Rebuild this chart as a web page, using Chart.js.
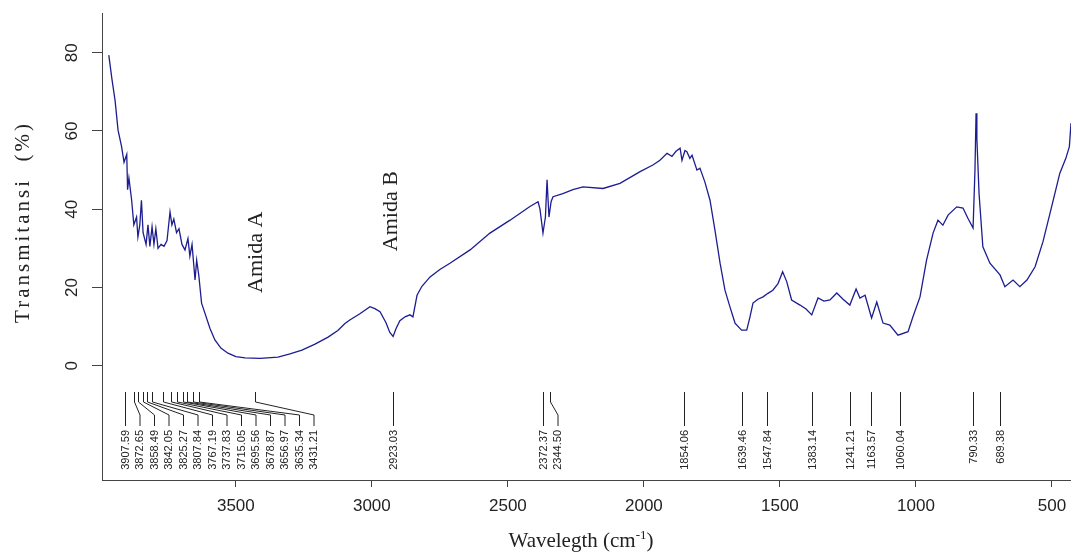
<!DOCTYPE html>
<html>
<head>
<meta charset="utf-8">
<title>FTIR Transmitansi</title>
<script src="https://cdn.jsdelivr.net/npm/chart.js@4.4.0/dist/chart.umd.min.js"></script>
<style>
  html, body { margin: 0; padding: 0; background: #fff; overflow: hidden; }
  #wrap { width: 1071px; height: 556px; }
</style>
</head>
<body>
<div id="wrap"><canvas id="ftirChart" width="1071" height="556"></canvas></div>
<script>
// spectrum (cm-1 / %T)
const wavenumber = [
  3967, 3956, 3944, 3933, 3920, 3911, 3901, 3898, 3893, 3883,
  3875, 3865, 3860, 3853, 3847, 3841, 3830, 3823, 3816, 3808,
  3801, 3794, 3786, 3775, 3764, 3753, 3742, 3735, 3728, 3718,
  3709, 3698, 3687, 3676, 3669, 3661, 3650, 3644, 3636, 3626,
  3614, 3595, 3577, 3555, 3529, 3500, 3466, 3411, 3345, 3301,
  3257, 3209, 3161, 3125, 3099, 3081, 3044, 3007, 2989, 2970,
  2948, 2934, 2922, 2911, 2897, 2878, 2860, 2849, 2834, 2816,
  2786, 2750, 2713, 2639, 2566, 2492, 2419, 2389, 2382, 2371,
  2362, 2356, 2349, 2341, 2334, 2298, 2261, 2224, 2150, 2088,
  2014, 1967, 1941, 1915, 1897, 1882, 1867, 1860, 1849, 1842,
  1831, 1823, 1805, 1794, 1776, 1757, 1739, 1720, 1702, 1684,
  1665, 1641, 1622, 1610, 1599, 1581, 1562, 1544, 1526, 1507,
  1490, 1475, 1457, 1426, 1404, 1383, 1360, 1338, 1316, 1291,
  1268, 1243, 1220, 1206, 1187, 1163, 1144, 1121, 1096, 1066,
  1029, 1011, 985, 961, 937, 919, 901, 882, 850, 827,
  809, 790, 783, 779, 776, 768, 754, 728, 691, 673,
  643, 618, 592, 562, 533, 507, 471, 449, 436, 430
];
const transmittance = [
  79.4, 73.5, 67.8, 60.2, 56, 52, 54, 45, 48, 42.3,
  36, 38, 32.9, 36, 42.3, 34, 31, 36, 30.5, 35.5,
  31, 35, 30, 31, 30.5, 32, 39.3, 36, 37.5, 34,
  35, 31, 29.6, 32.5, 28, 31, 21.9, 27, 23, 16,
  13.5, 9.5, 6.6, 4.5, 3.2, 2.3, 2, 1.9, 2.2, 3,
  4, 5.5, 7.3, 9, 10.8, 11.7, 13.3, 15.1, 14.6, 13.8,
  11, 8.5, 7.5, 9.5, 11.5, 12.5, 13, 12.5, 18, 20.3,
  22.7, 24.6, 26.2, 29.6, 33.9, 37.2, 40.7, 41.9, 40, 33.9,
  38, 47.5, 38, 42, 43.2, 44, 45, 45.7, 45.3, 46.6,
  49.6, 51.3, 52.5, 54.3, 53.5, 54.8, 55.6, 52.5, 55, 54.7,
  53, 53.8, 50, 50.5, 47, 42.3, 34.7, 26.2, 19.3, 15.1,
  10.9, 9.1, 9.1, 12.5, 16, 17, 17.6, 18.5, 19.3, 21,
  24, 21.5, 16.8, 15.5, 14.5, 13, 17.3, 16.5, 16.8, 18.6,
  17, 15.5, 19.6, 17.3, 18, 12.2, 16.3, 10.9, 10.4, 7.8,
  8.7, 12.5, 17.6, 27, 33.9, 37.2, 35.9, 38.5, 40.6, 40.3,
  37.7, 35.2, 50, 64.5, 58, 44, 30.4, 26.2, 23.2, 20.2,
  21.9, 20.2, 21.9, 25.3, 31.7, 39, 49.2, 53, 56, 62
];

const xTicks = [3500, 3000, 2500, 2000, 1500, 1000, 500];
const yTicks = [0, 20, 40, 60, 80];

// peak picks printed under the curve
const peakPositions = [
  3907.59, 3872.65, 3858.49, 3842.05, 3825.27, 3807.84, 3767.19,
  3737.83, 3715.05, 3695.56, 3678.87, 3656.97, 3635.34, 3431.21,
  2923.03, 2372.37, 2344.50, 1854.06, 1639.46, 1547.84, 1383.14,
  1241.21, 1163.57, 1060.04, 790.33, 689.38
];

const bandNames = ["Amida A", "Amida B"];
const bandPositions = [3426, 2930];
const bandLevels = [29, 39.5];

const serif = '"Liberation Serif", "Times New Roman", serif';
const sans = '"Liberation Sans", Arial, sans-serif';

//////////////////// text + peak marks
const extras = {
  id: "extras",
  afterDraw(chart) {
    const ctx = chart.ctx;
    const xs = chart.scales.x;
    const ys = chart.scales.y;
    const bottom = chart.chartArea.bottom;

    ctx.save();
    ctx.strokeStyle = "#222";
    ctx.fillStyle = "#222";
    ctx.lineWidth = 1;
    ctx.font = "11px " + sans;

    let prev = -Infinity;
    peakPositions.forEach((p) => {
      const mx = Math.round(xs.getPixelForValue(p)) + 0.5;
      const lx = Math.max(mx, prev + 14.5);
      prev = lx;
      ctx.beginPath();
      ctx.moveTo(mx, bottom - 88);
      if (lx - mx > 0.5) {
        ctx.lineTo(mx, bottom - 78);
        ctx.lineTo(lx, bottom - 65);
      }
      ctx.lineTo(lx, bottom - 54);
      ctx.stroke();

      ctx.save();
      ctx.translate(lx, bottom - 50);
      ctx.rotate(-Math.PI / 2);
      ctx.textAlign = "right";
      ctx.textBaseline = "middle";
      ctx.fillText(p.toFixed(2), 0, 0);
      ctx.restore();
    });

    // band names
    ctx.font = "22px " + serif;
    bandNames.forEach((name, i) => {
      ctx.save();
      ctx.translate(xs.getPixelForValue(bandPositions[i]), ys.getPixelForValue(bandLevels[i]));
      ctx.rotate(-Math.PI / 2);
      ctx.textAlign = "center";
      ctx.textBaseline = "middle";
      ctx.fillText(name, 0, 0);
      ctx.restore();
    });

    // y title
    ctx.save();
    ctx.font = "21px " + serif;
    ctx.letterSpacing = "3px";
    ctx.translate(23, 222);
    ctx.rotate(-Math.PI / 2);
    ctx.textAlign = "center";
    ctx.textBaseline = "middle";
    ctx.fillText("Transmitansi  (%)", 0, 0);
    ctx.restore();

    // x title with superscript
    const mainFont = "21px " + serif;
    const supFont = "13px " + serif;
    ctx.font = mainFont;
    const a = "Wavelegth (cm", c = ")";
    const wa = ctx.measureText(a).width;
    const wc = ctx.measureText(c).width;
    ctx.font = supFont;
    const wb = ctx.measureText("-1").width;
    let tx = 581 - (wa + wb + wc) / 2;
    ctx.textBaseline = "alphabetic";
    ctx.textAlign = "left";
    ctx.font = mainFont;
    ctx.fillText(a, tx, 547);
    ctx.font = supFont;
    ctx.fillText("-1", tx + wa, 539);
    ctx.font = mainFont;
    ctx.fillText(c, tx + wa + wb, 547);

    ctx.restore();
  }
};

const points = wavenumber.map((w, i) => ({ x: w, y: transmittance[i] }));

new Chart(document.getElementById("ftirChart"), {
  type: "line",
  data: {
    datasets: [{
      label: "Transmitansi",
      data: points,
      borderColor: "#1d1d92",
      borderWidth: 1.3,
      pointRadius: 0,
      tension: 0,
      fill: false
    }]
  },
  options: {
    responsive: false,
    animation: false,
    devicePixelRatio: 1,
    layout: { padding: { top: 13, right: 0, left: 0, bottom: 0 } },
    plugins: { legend: { display: false }, tooltip: { enabled: false } },
    scales: {
      x: {
        type: "linear",
        reverse: true,
        min: 430,
        max: 3992,
        afterBuildTicks: (s) => { s.ticks = xTicks.map(v => ({ value: v })); },
        afterFit: (s) => {
          s.height = 76;
          s.paddingLeft = 0; s.paddingRight = 0;
        },
        grid: { drawOnChartArea: false, tickLength: 7, color: "#444" },
        border: { display: true, color: "#444", width: 1 },
        ticks: {
          autoSkip: false,
          maxRotation: 0,
          padding: 9,
          color: "#222",
          font: { family: sans, size: 17 },
          callback: (v) => String(v)
        }
      },
      y: {
        min: -29.21,
        max: 90.15,
        afterBuildTicks: (s) => { s.ticks = yTicks.map(v => ({ value: v })); },
        afterFit: (s) => {
          s.width = 102;
          s.paddingTop = 0; s.paddingBottom = 0;
        },
        grid: { drawOnChartArea: false, tickLength: 10, color: "#444" },
        border: { display: true, color: "#444", width: 1 },
        ticks: {
          minRotation: 90,
          maxRotation: 90,
          crossAlign: "center",
          padding: 10.5,
          color: "#222",
          font: { family: sans, size: 17 },
          callback: (v) => String(v)
        }
      }
    }
  },
  plugins: [extras]
});
</script>
</body>
</html>
